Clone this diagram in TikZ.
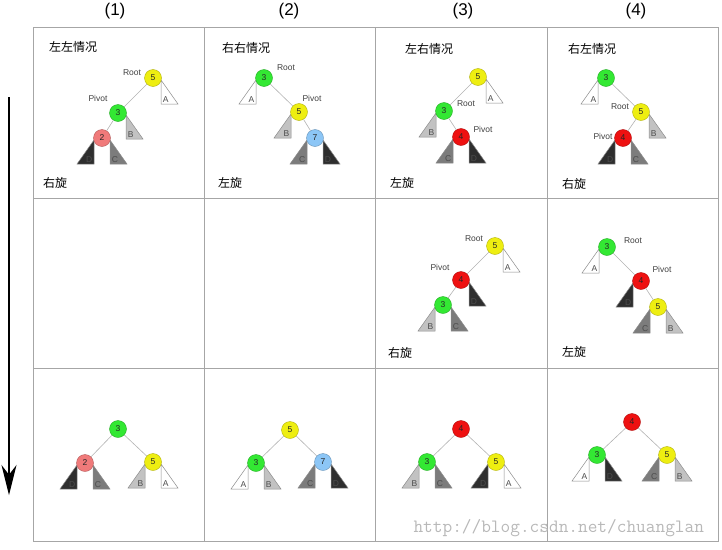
\documentclass[tikz,border=0pt]{standalone}
\usepackage{fontspec}
\setmainfont{Liberation Sans}
\newfontfamily\cjk{Noto Sans CJK SC}
\usetikzlibrary{arrows.meta,backgrounds}
\definecolor{ngreen}{HTML}{33E833}
\definecolor{nyellow}{HTML}{EEEE11}
\definecolor{npink}{HTML}{F07A7A}
\definecolor{nred}{HTML}{EE1111}
\definecolor{nblue}{HTML}{8CC6F6}
\definecolor{tB}{HTML}{C2C2C2}
\definecolor{tC}{HTML}{7C7C7C}
\definecolor{tD}{HTML}{2E2E2E}

\begin{document}
\begin{tikzpicture}[x=1pt,y=-1pt,
  vtx/.style={circle,draw=#1!75!black,fill=#1,minimum size=17pt,inner sep=0pt,font=\fontsize{8.5}{8.5}\selectfont,text=black!85},
  subtree/.style={draw=black!45,line width=0.5pt},
  rlbl/.style={anchor=south west,inner sep=1.5pt,font=\fontsize{8.5}{8.5}\selectfont,text=black!70},
  llbl/.style={anchor=south east,inner sep=1.5pt,font=\fontsize{8.5}{8.5}\selectfont,text=black!70},
  role/.style={font=\fontsize{8.5}{8.5}\selectfont,text=black!75},
  casetxt/.style={anchor=west,inner sep=0pt,font=\cjk\fontsize{12}{12}\selectfont},
  link/.style={draw=black!30,line width=0.6pt},
  cellline/.style={draw=black!35,line width=1pt}]
\useasboundingbox (0,0) rectangle (722,549);

\draw[cellline] (33,27) rectangle (718,541);
\draw[cellline] (204.5,27) -- (204.5,541);
\draw[cellline] (375.5,27) -- (375.5,541);
\draw[cellline] (547,27) -- (547,541);
\draw[cellline] (33,198) -- (718,198);
\draw[cellline] (33,368.5) -- (718,368.5);

\node[font=\fontsize{17}{17}\selectfont] (h1) at (115,11) {(1)};
\node[font=\fontsize{17}{17}\selectfont] (h2) at (289,11) {(2)};
\node[font=\fontsize{17}{17}\selectfont] (h3) at (463,11) {(3)};
\node[font=\fontsize{17}{17}\selectfont] (h4) at (636,11) {(4)};

\coordinate (down0) at (9,97);
\coordinate (down1) at (9,495);
\draw[line width=1.3pt,-{Stealth[length=30pt,width=15pt]}] (down0) -- (down1);

\node[casetxt] (aacase) at (49,47) {左左情况};
\node[casetxt] (abcase) at (222,48) {右右情况};
\node[casetxt] (accase) at (405,49) {左右情况};
\node[casetxt] (adcase) at (568,49) {右左情况};
\node[casetxt] (aarot) at (43,183) {右旋};
\node[casetxt] (abrot) at (218,183) {左旋};
\node[casetxt] (acrot) at (390,183) {左旋};
\node[casetxt] (adrot) at (562,184) {右旋};
\node[casetxt] (bcrot) at (388,353) {右旋};
\node[casetxt] (bdrot) at (562,352) {左旋};

\node[role] (aaroot) at (132,73) {Root};
\node[role] (aapiv) at (98,98) {Pivot};
\node[role] (abroot) at (286,68) {Root};
\node[role] (abpiv) at (312,98) {Pivot};
\node[role] (acroot) at (466,104) {Root};
\node[role] (acpiv) at (483,129) {Pivot};
\node[role] (adroot) at (620,107) {Root};
\node[role] (adpiv) at (603,136) {Pivot};
\node[role] (bcroot) at (474,239) {Root};
\node[role] (bcpiv) at (440,267) {Pivot};
\node[role] (bdroot) at (633,241) {Root};
\node[role] (bdpiv) at (662,269) {Pivot};

\node[vtx=nyellow] (aa5) at (153,78) {5};
\node[vtx=ngreen] (aa3) at (118,113) {3};
\node[vtx=npink] (aa2) at (102,138) {2};
\node[vtx=ngreen] (ab3) at (264,78) {3};
\node[vtx=nyellow] (ab5) at (299,112) {5};
\node[vtx=nblue] (ab7) at (315,138) {7};
\node[vtx=nyellow] (ac5) at (478,77) {5};
\node[vtx=ngreen] (ac3) at (444,111) {3};
\node[vtx=nred] (ac4) at (461,137) {4};
\node[vtx=ngreen] (ad3) at (606,78) {3};
\node[vtx=nyellow] (ad5) at (641,112) {5};
\node[vtx=nred] (ad4) at (623,138) {4};

\node[vtx=nyellow] (bc5) at (495,246) {5};
\node[vtx=nred] (bc4) at (461,280) {4};
\node[vtx=ngreen] (bc3) at (443,305) {3};
\node[vtx=ngreen] (bd3) at (607,247) {3};
\node[vtx=nred] (bd4) at (641,281) {4};
\node[vtx=nyellow] (bd5) at (658,307) {5};

\node[vtx=ngreen] (ca3) at (118,429) {3};
\node[vtx=npink] (ca2) at (85,463) {2};
\node[vtx=nyellow] (ca5) at (153,462) {5};
\node[vtx=nyellow] (cb5) at (290,430) {5};
\node[vtx=ngreen] (cb3) at (256,463) {3};
\node[vtx=nblue] (cb7) at (323,462) {7};
\node[vtx=nred] (cc4) at (461,429) {4};
\node[vtx=ngreen] (cc3) at (427,462) {3};
\node[vtx=nyellow] (cc5) at (496,462) {5};
\node[vtx=nred] (cd4) at (632,422) {4};
\node[vtx=ngreen] (cd3) at (597,455) {3};
\node[vtx=nyellow] (cd5) at (667,455) {5};

\draw[link] (aa5) -- (aa3);
\draw[link] (aa3) -- (aa2);
\draw[link] (ab3) -- (ab5);
\draw[link] (ab5) -- (ab7);
\draw[link] (ac5) -- (ac3);
\draw[link] (ac3) -- (ac4);
\draw[link] (ad3) -- (ad5);
\draw[link] (ad5) -- (ad4);
\draw[link] (bc5) -- (bc4);
\draw[link] (bc4) -- (bc3);
\draw[link] (bd3) -- (bd4);
\draw[link] (bd4) -- (bd5);
\draw[link] (ca3) -- (ca2);
\draw[link] (ca3) -- (ca5);
\draw[link] (cb5) -- (cb3);
\draw[link] (cb5) -- (cb7);
\draw[link] (cc4) -- (cc3);
\draw[link] (cc4) -- (cc5);
\draw[link] (cd4) -- (cd3);
\draw[link] (cd4) -- (cd5);

\begin{scope}[on background layer]
\draw[subtree,fill=white] ([shift={(8,2)}]aa5.center) -- ++(0,24) node[rlbl]{A} -- ++(17,0) -- cycle;
\draw[subtree,fill=tB] ([shift={(8,2)}]aa3.center) -- ++(0,24) node[rlbl]{B} -- ++(17,0) -- cycle;
\draw[subtree,fill=tD] ([shift={(-8,2)}]aa2.center) -- ++(0,24) node[llbl]{D} -- ++(-17,0) -- cycle;
\draw[subtree,fill=tC] ([shift={(8,2)}]aa2.center) -- ++(0,24) node[rlbl]{C} -- ++(17,0) -- cycle;

\draw[subtree,fill=white] ([shift={(-8,2)}]ab3.center) -- ++(0,24) node[llbl]{A} -- ++(-17,0) -- cycle;
\draw[subtree,fill=tB] ([shift={(-8,2)}]ab5.center) -- ++(0,24) node[llbl]{B} -- ++(-17,0) -- cycle;
\draw[subtree,fill=tC] ([shift={(-8,2)}]ab7.center) -- ++(0,24) node[llbl]{C} -- ++(-17,0) -- cycle;
\draw[subtree,fill=tD] ([shift={(8,2)}]ab7.center) -- ++(0,24) node[rlbl]{D} -- ++(17,0) -- cycle;

\draw[subtree,fill=white] ([shift={(8,2)}]ac5.center) -- ++(0,24) node[rlbl]{A} -- ++(17,0) -- cycle;
\draw[subtree,fill=tB] ([shift={(-8,2)}]ac3.center) -- ++(0,24) node[llbl]{B} -- ++(-17,0) -- cycle;
\draw[subtree,fill=tC] ([shift={(-8,2)}]ac4.center) -- ++(0,24) node[llbl]{C} -- ++(-17,0) -- cycle;
\draw[subtree,fill=tD] ([shift={(8,2)}]ac4.center) -- ++(0,24) node[rlbl]{D} -- ++(17,0) -- cycle;

\draw[subtree,fill=white] ([shift={(-8,2)}]ad3.center) -- ++(0,24) node[llbl]{A} -- ++(-17,0) -- cycle;
\draw[subtree,fill=tB] ([shift={(8,2)}]ad5.center) -- ++(0,24) node[rlbl]{B} -- ++(17,0) -- cycle;
\draw[subtree,fill=tD] ([shift={(-8,2)}]ad4.center) -- ++(0,24) node[llbl]{D} -- ++(-17,0) -- cycle;
\draw[subtree,fill=tC] ([shift={(8,2)}]ad4.center) -- ++(0,24) node[rlbl]{C} -- ++(17,0) -- cycle;

\draw[subtree,fill=white] ([shift={(8,2)}]bc5.center) -- ++(0,24) node[rlbl]{A} -- ++(17,0) -- cycle;
\draw[subtree,fill=tD] ([shift={(8,2)}]bc4.center) -- ++(0,24) node[rlbl]{D} -- ++(17,0) -- cycle;
\draw[subtree,fill=tB] ([shift={(-8,2)}]bc3.center) -- ++(0,24) node[llbl]{B} -- ++(-17,0) -- cycle;
\draw[subtree,fill=tC] ([shift={(8,2)}]bc3.center) -- ++(0,24) node[rlbl]{C} -- ++(17,0) -- cycle;

\draw[subtree,fill=white] ([shift={(-8,2)}]bd3.center) -- ++(0,24) node[llbl]{A} -- ++(-17,0) -- cycle;
\draw[subtree,fill=tD] ([shift={(-8,2)}]bd4.center) -- ++(0,24) node[llbl]{D} -- ++(-17,0) -- cycle;
\draw[subtree,fill=tC] ([shift={(-8,2)}]bd5.center) -- ++(0,24) node[llbl]{C} -- ++(-17,0) -- cycle;
\draw[subtree,fill=tB] ([shift={(8,2)}]bd5.center) -- ++(0,24) node[rlbl]{B} -- ++(17,0) -- cycle;

\draw[subtree,fill=tD] ([shift={(-8,2)}]ca2.center) -- ++(0,24) node[llbl]{D} -- ++(-17,0) -- cycle;
\draw[subtree,fill=tC] ([shift={(8,2)}]ca2.center) -- ++(0,24) node[rlbl]{C} -- ++(17,0) -- cycle;
\draw[subtree,fill=tB] ([shift={(-8,2)}]ca5.center) -- ++(0,24) node[llbl]{B} -- ++(-17,0) -- cycle;
\draw[subtree,fill=white] ([shift={(8,2)}]ca5.center) -- ++(0,24) node[rlbl]{A} -- ++(17,0) -- cycle;

\draw[subtree,fill=white] ([shift={(-8,2)}]cb3.center) -- ++(0,24) node[llbl]{A} -- ++(-17,0) -- cycle;
\draw[subtree,fill=tB] ([shift={(8,2)}]cb3.center) -- ++(0,24) node[rlbl]{B} -- ++(17,0) -- cycle;
\draw[subtree,fill=tC] ([shift={(-8,2)}]cb7.center) -- ++(0,24) node[llbl]{C} -- ++(-17,0) -- cycle;
\draw[subtree,fill=tD] ([shift={(8,2)}]cb7.center) -- ++(0,24) node[rlbl]{D} -- ++(17,0) -- cycle;

\draw[subtree,fill=tB] ([shift={(-8,2)}]cc3.center) -- ++(0,24) node[llbl]{B} -- ++(-17,0) -- cycle;
\draw[subtree,fill=tC] ([shift={(8,2)}]cc3.center) -- ++(0,24) node[rlbl]{C} -- ++(17,0) -- cycle;
\draw[subtree,fill=tD] ([shift={(-8,2)}]cc5.center) -- ++(0,24) node[llbl]{D} -- ++(-17,0) -- cycle;
\draw[subtree,fill=white] ([shift={(8,2)}]cc5.center) -- ++(0,24) node[rlbl]{A} -- ++(17,0) -- cycle;

\draw[subtree,fill=white] ([shift={(-8,2)}]cd3.center) -- ++(0,24) node[llbl]{A} -- ++(-17,0) -- cycle;
\draw[subtree,fill=tD] ([shift={(8,2)}]cd3.center) -- ++(0,24) node[rlbl]{D} -- ++(17,0) -- cycle;
\draw[subtree,fill=tC] ([shift={(-8,2)}]cd5.center) -- ++(0,24) node[llbl]{C} -- ++(-17,0) -- cycle;
\draw[subtree,fill=tB] ([shift={(8,2)}]cd5.center) -- ++(0,24) node[rlbl]{B} -- ++(17,0) -- cycle;
\end{scope}

\node[anchor=west,text=black!28,font=\ttfamily\fontsize{18.8}{18.8}\selectfont] (mark) at (410,528) {http://blog.csdn.net/chuanglan};

\end{tikzpicture}
\end{document}
